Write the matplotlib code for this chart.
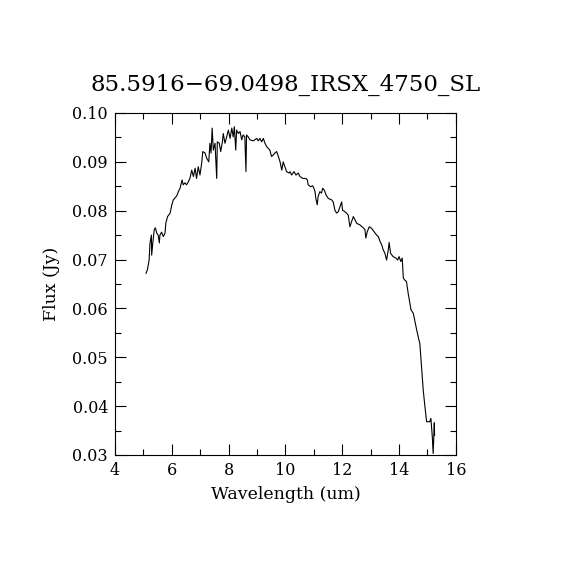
import matplotlib
matplotlib.use("Agg")
import matplotlib.pyplot as plt
from matplotlib.ticker import MultipleLocator

# spectrum (wavelength in um, flux in Jy)
wave = [5.09, 5.14, 5.20, 5.23, 5.28, 5.29, 5.33, 5.38, 5.42, 5.47,
        5.52, 5.56, 5.58, 5.64, 5.70, 5.76, 5.79, 5.85, 5.94, 6.00,
        6.05, 6.17, 6.23, 6.29, 6.36, 6.40, 6.46, 6.52, 6.58, 6.64,
        6.70, 6.76, 6.82, 6.87, 6.93, 6.99, 7.05, 7.09, 7.17, 7.23,
        7.30, 7.34, 7.38, 7.42, 7.46, 7.52, 7.55, 7.58, 7.60, 7.67,
        7.72, 7.78, 7.81, 7.87, 7.93, 7.99, 8.05, 8.11, 8.16, 8.20,
        8.25, 8.28, 8.34, 8.40, 8.46, 8.51, 8.57, 8.61, 8.63, 8.69,
        8.75, 8.87, 8.99, 9.04, 9.10, 9.16, 9.22, 9.28, 9.34, 9.45,
        9.51, 9.57, 9.63, 9.69, 9.75, 9.81, 9.87, 9.92, 9.98, 10.04,
        10.13, 10.16, 10.22, 10.30, 10.37, 10.45, 10.51, 10.61, 10.72, 10.77,
        10.80, 10.89, 10.96, 11.00, 11.04, 11.07, 11.12, 11.15, 11.21, 11.27,
        11.31, 11.37, 11.43, 11.51, 11.63, 11.68, 11.74, 11.80, 11.86, 11.92,
        11.98, 12.01, 12.09, 12.15, 12.21, 12.27, 12.33, 12.39, 12.45, 12.51,
        12.62, 12.72, 12.80, 12.83, 12.88, 12.95, 13.03, 13.12, 13.21, 13.27,
        13.33, 13.39, 13.44, 13.50, 13.56, 13.62, 13.65, 13.70, 13.79, 13.89,
        13.95, 14.00, 14.06, 14.11, 14.15, 14.20, 14.26, 14.32, 14.42, 14.50,
        14.62, 14.70, 14.73, 14.79, 14.85, 14.91, 14.97, 15.08, 15.12, 15.17,
        15.20, 15.24, 15.25]
flux = [0.0672, 0.0679, 0.0699, 0.0733, 0.0750, 0.0709, 0.0734, 0.0761, 0.0765, 0.0754,
        0.0750, 0.0734, 0.0750, 0.0756, 0.0747, 0.0754, 0.0775, 0.0788, 0.0795, 0.0812,
        0.0822, 0.0830, 0.0839, 0.0846, 0.0863, 0.0853, 0.0857, 0.0853, 0.0859, 0.0867,
        0.0883, 0.0870, 0.0887, 0.0866, 0.0890, 0.0873, 0.0897, 0.0921, 0.0918, 0.0907,
        0.0900, 0.0938, 0.0918, 0.0969, 0.0924, 0.0938, 0.0904, 0.0866, 0.0941, 0.0938,
        0.0921, 0.0941, 0.0958, 0.0938, 0.0951, 0.0965, 0.0948, 0.0969, 0.0951, 0.0972,
        0.0924, 0.0965, 0.0958, 0.0962, 0.0945, 0.0955, 0.0951, 0.0880, 0.0955, 0.0951,
        0.0945, 0.0943, 0.0948, 0.0943, 0.0948, 0.0941, 0.0948, 0.0938, 0.0931, 0.0924,
        0.0911, 0.0914, 0.0918, 0.0921, 0.0911, 0.0900, 0.0883, 0.0900, 0.0890, 0.0880,
        0.0877, 0.0880, 0.0873, 0.0880, 0.0873, 0.0877, 0.0870, 0.0866, 0.0866, 0.0863,
        0.0853, 0.0849, 0.0851, 0.0846, 0.0839, 0.0825, 0.0812, 0.0829, 0.0839, 0.0836,
        0.0846, 0.0842, 0.0832, 0.0825, 0.0822, 0.0818, 0.0801, 0.0795, 0.0798, 0.0808,
        0.0818, 0.0801, 0.0798, 0.0795, 0.0791, 0.0767, 0.0778, 0.0788, 0.0781, 0.0774,
        0.0771, 0.0766, 0.0761, 0.0744, 0.0757, 0.0767, 0.0764, 0.0757, 0.0750, 0.0747,
        0.0737, 0.0730, 0.0720, 0.0713, 0.0699, 0.0720, 0.0735, 0.0713, 0.0706, 0.0703,
        0.0699, 0.0706, 0.0696, 0.0703, 0.0662, 0.0658, 0.0655, 0.0631, 0.0597, 0.0590,
        0.0556, 0.0535, 0.0529, 0.0481, 0.0433, 0.0399, 0.0368, 0.0368, 0.0375, 0.0337,
        0.0303, 0.0366, 0.0340]

titel = "85.5916\u221269.0498_IRSX_4750_SL"

plt.rcParams['font.family'] = ['DejaVu Serif']
fig = plt.figure(figsize=(5.7, 5.7), dpi=100)
ax = fig.add_axes([0.2018, 0.2018, 0.598, 0.6])

ax.plot(wave, flux, "-", color="black", lw=0.8)

ax.set_xlim(4, 16)
ax.set_ylim(0.03, 0.10)
ax.xaxis.set_major_locator(MultipleLocator(2))
ax.xaxis.set_minor_locator(MultipleLocator(1))
ax.yaxis.set_major_locator(MultipleLocator(0.01))
ax.yaxis.set_minor_locator(MultipleLocator(0.005))
ax.yaxis.set_major_formatter(plt.FormatStrFormatter("%.2f"))
ax.tick_params(which="both", direction="in", top=True, right=True,
               labelsize=11.5, width=0.8)
ax.tick_params(which="major", length=8, pad=5)
ax.tick_params(which="minor", length=4)
for s in ax.spines.values():
    s.set_linewidth(0.8)

ax.set_xlabel("Wavelength (um)", fontsize=12.5, labelpad=5)
ax.set_ylabel("Flux (Jy)", fontsize=12.5, labelpad=9)
ax.set_title(titel, fontsize=16.5, pad=16)

fig.savefig("out.png", dpi=100)
